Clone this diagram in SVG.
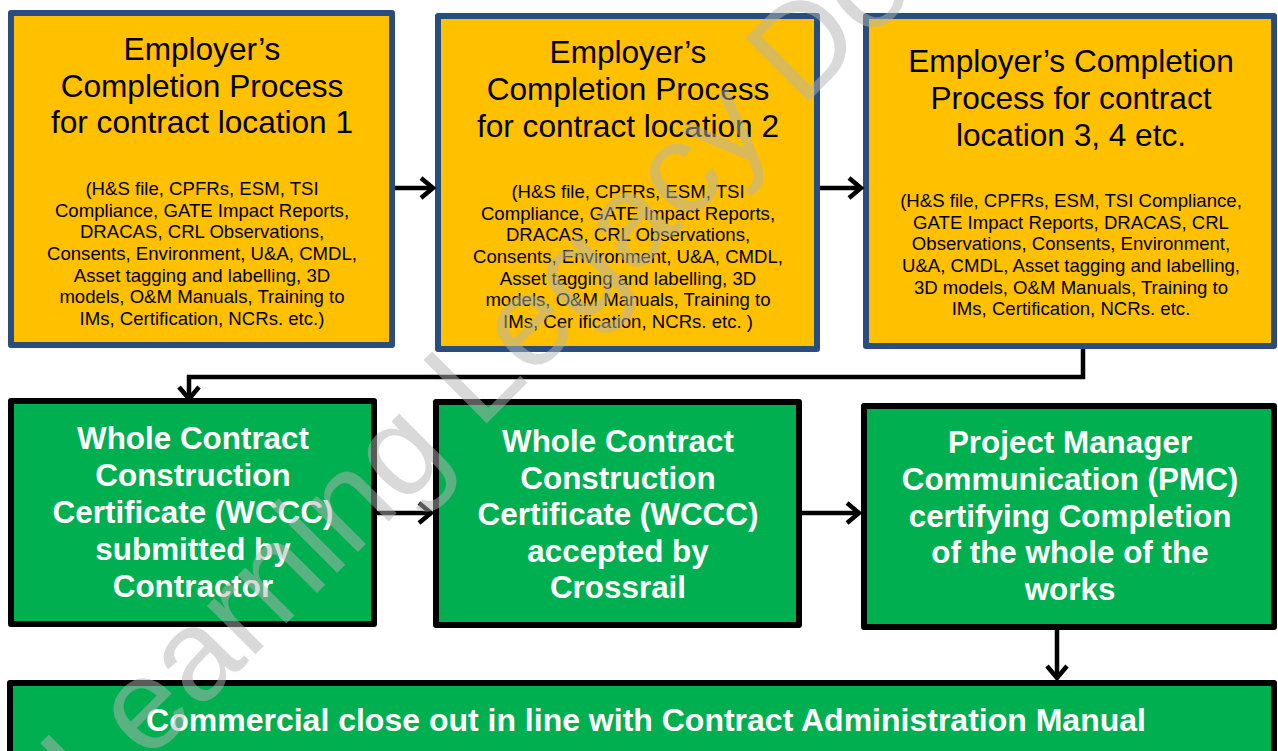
<svg xmlns="http://www.w3.org/2000/svg" width="1278" height="751" viewBox="0 0 1278 751">
  <defs>
    <marker id="chevron" markerUnits="userSpaceOnUse" markerWidth="24" markerHeight="26" refX="15" refY="12" orient="auto">
      <path d="M3,2 L15,12 L3,22" fill="none" stroke="#000" stroke-width="4.5" stroke-linejoin="miter"/>
    </marker>
  </defs>
  <style>
    .stage { fill: #FFC000; stroke: #2a4d7f; stroke-width: 6; stroke-linejoin: round; }
    .cert { fill: #00B050; stroke: #000; stroke-width: 6; stroke-linejoin: round; }
    .title { font-family: "Liberation Sans", Arial, sans-serif; font-size: 31.6px; fill: #000; text-anchor: middle; }
    .detail { font-family: "Liberation Sans", Arial, sans-serif; font-size: 18.6px; fill: #000; text-anchor: middle; }
    .bold { font-family: "Liberation Sans", Arial, sans-serif; font-size: 31.4px; font-weight: bold; fill: #fff; text-anchor: middle; }
    .wide { font-size: 32px; }
    .link { fill: none; stroke: #000; stroke-width: 4.5; }
    .mark { font-family: "Liberation Sans", Arial, sans-serif; font-size: 130px; fill: #b3b3b3; fill-opacity: 0.5; }
  </style>
  <rect width="1278" height="751" fill="#fff"/>

  <!-- Completion process per contract location -->
  <g id="location-1">
    <rect class="stage" x="11" y="13" width="381" height="332"/>
    <text class="title" x="202" y="60">Employer’s</text>
    <text class="title" x="202" y="97">Completion Process</text>
    <text class="title" x="202" y="133">for contract location 1</text>
    <text class="detail" x="202" y="195">(H&amp;S file, CPFRs, ESM, TSI</text>
    <text class="detail" x="202" y="216.7">Compliance, GATE Impact Reports,</text>
    <text class="detail" x="202" y="238.3">DRACAS, CRL Observations,</text>
    <text class="detail" x="202" y="260">Consents, Environment, U&amp;A, CMDL,</text>
    <text class="detail" x="202" y="281.7">Asset tagging and labelling, 3D</text>
    <text class="detail" x="202" y="303.3">models, O&amp;M Manuals, Training to</text>
    <text class="detail" x="202" y="325">IMs, Certification, NCRs. etc.)</text>
  </g>

  <g id="location-2">
    <rect class="stage" x="438" y="16" width="379" height="333"/>
    <text class="title" x="628" y="63">Employer’s</text>
    <text class="title" x="628" y="100">Completion Process</text>
    <text class="title" x="628" y="137">for contract location 2</text>
    <text class="detail" x="628" y="198">(H&amp;S file, CPFRs, ESM, TSI</text>
    <text class="detail" x="628" y="219.7">Compliance, GATE Impact Reports,</text>
    <text class="detail" x="628" y="241.3">DRACAS, CRL Observations,</text>
    <text class="detail" x="628" y="263">Consents, Environment, U&amp;A, CMDL,</text>
    <text class="detail" x="628" y="284.7">Asset tagging and labelling, 3D</text>
    <text class="detail" x="628" y="306.3">models, O&amp;M Manuals, Training to</text>
    <text class="detail" x="628" y="328">IMs, Cer ification, NCRs. etc. )</text>
  </g>

  <g id="location-3">
    <rect class="stage" x="866" y="16" width="408" height="330"/>
    <text class="title" x="1071" y="72">Employer’s Completion</text>
    <text class="title" x="1071" y="109">Process for contract</text>
    <text class="title" x="1071" y="146">location 3, 4 etc.</text>
    <text class="detail" x="1071" y="207">(H&amp;S file, CPFRs, ESM, TSI Compliance,</text>
    <text class="detail" x="1071" y="228.7">GATE Impact Reports, DRACAS, CRL</text>
    <text class="detail" x="1071" y="250.3">Observations, Consents, Environment,</text>
    <text class="detail" x="1071" y="272">U&amp;A, CMDL, Asset tagging and labelling,</text>
    <text class="detail" x="1071" y="293.7">3D models, O&amp;M Manuals, Training to</text>
    <text class="detail" x="1071" y="315.3">IMs, Certification, NCRs. etc.</text>
  </g>

  <!-- Whole-contract certification steps -->
  <g id="wccc-submitted">
    <rect class="cert" x="11" y="401" width="363" height="223"/>
    <text class="bold" x="193" y="449">Whole Contract</text>
    <text class="bold" x="193" y="486">Construction</text>
    <text class="bold" x="193" y="523">Certificate (WCCC)</text>
    <text class="bold" x="193" y="560">submitted by</text>
    <text class="bold" x="193" y="597">Contractor</text>
  </g>

  <g id="wccc-accepted">
    <rect class="cert" x="436" y="402" width="363" height="223"/>
    <text class="bold" x="618" y="452">Whole Contract</text>
    <text class="bold" x="618" y="489">Construction</text>
    <text class="bold" x="618" y="525">Certificate (WCCC)</text>
    <text class="bold" x="618" y="562">accepted by</text>
    <text class="bold" x="618" y="598">Crossrail</text>
  </g>

  <g id="pmc">
    <rect class="cert" x="864" y="406" width="410" height="221"/>
    <text class="bold" x="1070" y="453">Project Manager</text>
    <text class="bold" x="1070" y="490">Communication (PMC)</text>
    <text class="bold" x="1070" y="527">certifying Completion</text>
    <text class="bold" x="1070" y="563">of the whole of the</text>
    <text class="bold" x="1070" y="600">works</text>
  </g>

  <g id="commercial-close-out">
    <rect class="cert" x="10" y="683" width="1264" height="100"/>
    <text class="bold wide" x="646" y="731">Commercial close out in line with Contract Administration Manual</text>
  </g>

  <!-- Flow connectors -->
  <g id="connectors">
    <path class="link" d="M395,188 H433" marker-end="url(#chevron)"/>
    <path class="link" d="M820,188 H861" marker-end="url(#chevron)"/>
    <path class="link" d="M1083,349 V377 H189 V399" marker-end="url(#chevron)"/>
    <path class="link" d="M377,513 H431" marker-end="url(#chevron)"/>
    <path class="link" d="M802,513 H859" marker-end="url(#chevron)"/>
    <path class="link" d="M1057,630 V678" marker-end="url(#chevron)"/>
  </g>

  <!-- Document watermark -->
  <text class="mark" transform="translate(96,814) rotate(-45)">Learning Legacy Document</text>
</svg>
